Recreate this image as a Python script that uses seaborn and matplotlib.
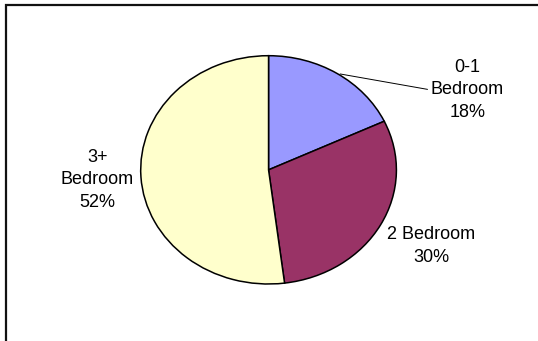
import matplotlib
matplotlib.use("Agg")
import matplotlib.pyplot as plt
from matplotlib.patches import Rectangle
import seaborn as sns

# Unit mix of the housing stock
categories = ["0-1\nBedroom", "2 Bedroom", "3+\nBedroom"]
shares = [18, 30, 52]
slice_colors = ["#9999FF", "#993366", "#FFFFCC"]

sns.set_style("white")
plt.rcParams["font.family"] = ["Liberation Sans", "DejaVu Sans"]

W, H = 538, 341
fig = plt.figure(figsize=(W / 100, H / 100), dpi=100)
fig.patch.set_facecolor("white")

# Pie occupies an elliptical area: place the axes over its bounding box
left, right, top, bottom = 140.7, 396.4, 55.7, 284.0
ax = fig.add_axes([left / W, (H - bottom) / H, (right - left) / W, (bottom - top) / H])

palette = sns.color_palette(slice_colors)
wedges, _ = ax.pie(shares, colors=palette, startangle=90, counterclock=False,
                   wedgeprops=dict(edgecolor="black", linewidth=1.1))
ax.set_aspect("auto")
ax.set_xlim(-1, 1)
ax.set_ylim(-1, 1)
ax.axis("off")

fs = 13
ls = 1.44
label_text = [f"{c}\n{s}%" for c, s in zip(categories, shares)]

# 0-1 Bedroom, with leader line from the slice edge
ax.annotate(label_text[0], xy=(0.56, 0.84), xytext=(1.555, 0.70),
            ha="center", va="center", fontsize=fs, color="black",
            linespacing=ls, annotation_clip=False,
            arrowprops=dict(arrowstyle="-", color="black", lw=0.7,
                            shrinkA=0, shrinkB=0, relpos=(0.0, 0.5)))
ax.text(1.27, -0.668, label_text[1], ha="center", va="center", fontsize=fs,
        color="black", linespacing=ls)
ax.text(-1.34, -0.088, label_text[2], ha="center", va="center", fontsize=fs,
        color="black", linespacing=ls)

# Chart border, running off the right and bottom edges
fig.patches.append(Rectangle((5.5 / W, -0.1), 1.2, (H - 5.0) / H + 0.1,
                             transform=fig.transFigure, fill=False,
                             edgecolor="#111111", linewidth=1.6))

fig.savefig("out.png", dpi=100)
